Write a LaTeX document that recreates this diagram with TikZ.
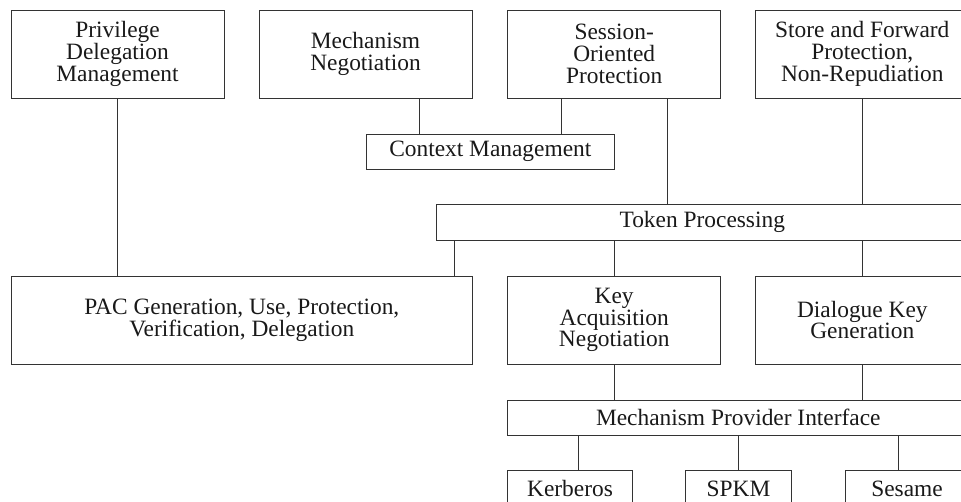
\documentclass[tikz,border=0pt]{standalone}
\usepackage{fontspec}
\setmainfont{Liberation Serif}
\begin{document}
\begin{tikzpicture}[x=1pt,y=-1pt,
  box/.style={draw=black!80, line width=0.9pt, align=center, inner sep=0pt,
    font=\fontsize{23.4}{21.7}\selectfont, text=black!90},
  tall/.style={box, minimum width=213pt, minimum height=88pt},
  bar/.style={box, minimum height=35pt},
  link/.style={draw=black!80, line width=0.9pt}]
\useasboundingbox (0,0) rectangle (961,502);
\clip (0,0) rectangle (961,502);

% top row
\node[tall] (priv)    at (117.5,54) {Privilege\\Delegation\\Management};
\node[tall] (mechneg) at (365.5,54) {Mechanism\\Negotiation};
\node[tall] (sess)    at (614.2,54) {Session-\\Oriented\\Protection};
\node[tall] (store)   at (862.3,54) {Store and Forward\\Protection,\\Non-Repudiation};

% context and token layers
\node[bar, minimum width=248.7pt] (ctx)   at (490.3,151.5) {Context Management};
\node[bar, minimum width=531pt, minimum height=36pt] (token) at (702.3,222) {Token Processing};

% middle row
\node[box, minimum width=461.7pt, minimum height=88pt] (pac) at (241.8,320)
  {PAC Generation, Use, Protection,\\Verification, Delegation};
\node[tall] (keyacq)   at (614.2,320) {Key\\Acquisition\\Negotiation};
\node[tall] (dialogue) at (862.3,320) {Dialogue Key\\Generation};

% provider interface and mechanisms
\node[bar, minimum width=461.3pt, minimum height=34.3pt] (mpi) at (738.3,417.8) {Mechanism Provider Interface};
\node[box, minimum width=124.6pt, minimum height=36pt] (kerb)   at (570,488.7)   {Kerberos};
\node[box, minimum width=106.4pt, minimum height=36pt] (spkm)   at (738.5,488.7) {SPKM};
\node[box, minimum width=124pt,   minimum height=36pt] (sesame) at (907,488.7)   {Sesame};

% attachment points that sit off the box centres
\coordinate (m1) at ([xshift=53.5pt]mechneg.south);
\coordinate (s1) at ([xshift=-53.2pt]sess.south);
\coordinate (s2) at ([xshift=53.2pt]sess.south);
\coordinate (p2) at ([xshift=-18.4pt]pac.north east);
\coordinate (k1) at ([xshift=8.7pt]kerb.north);
\coordinate (e1) at ([xshift=-8.7pt]sesame.north);

% connectors
\draw[link] (m1) -- (m1 |- ctx.north);
\draw[link] (s1) -- (s1 |- ctx.north);
\draw[link] (s2) -- (s2 |- token.north);
\draw[link] (store.south) -- (store.south |- token.north);
\draw[link] (priv.south) -- (priv.south |- pac.north);
\draw[link] (p2 |- token.south) -- (p2);
\draw[link] (keyacq.north |- token.south) -- (keyacq.north);
\draw[link] (dialogue.north |- token.south) -- (dialogue.north);
\draw[link] (keyacq.south) -- (keyacq.south |- mpi.north);
\draw[link] (dialogue.south) -- (dialogue.south |- mpi.north);
\draw[link] (k1 |- mpi.south) -- (k1);
\draw[link] (spkm.north |- mpi.south) -- (spkm.north);
\draw[link] (e1 |- mpi.south) -- (e1);
\end{tikzpicture}
\end{document}
